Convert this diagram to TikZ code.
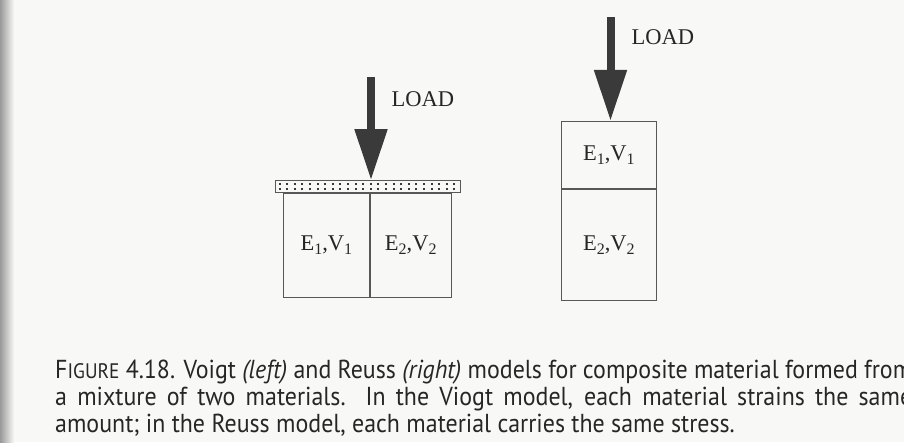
\documentclass[tikz,border=0pt]{standalone}
\usepackage{fontspec}
\setmainfont{Liberation Serif}
\newfontfamily\capfont[FakeStretch=0.92]{PT Sans}
\usetikzlibrary{arrows.meta,positioning}
\definecolor{ink}{HTML}{3A3A3A}
\definecolor{paper}{HTML}{F8F8F6}
\colorlet{rule}{ink!85}
\colorlet{txt}{black!85}
\newcommand{\lowidx}[1]{\raisebox{-0.4ex}{\fontsize{16}{16}\selectfont #1}}
\newcommand{\EV}[1]{E\lowidx{#1},V\lowidx{#1}}
\tikzset{
  layer/.style={draw=rule,line width=0.8pt,inner sep=0pt,text=txt},
  load/.style={ink,line width=8pt,-{Triangle[width=31pt,length=51pt]}},
  capline/.style={anchor=base west,inner sep=0pt,text=txt,
                  font=\capfont\fontsize{26}{26}\selectfont}
}

\begin{document}
\begin{tikzpicture}[x=1pt,y=1pt,font=\fontsize{22.5}{22.5}\selectfont]
    \fill[paper] (0,0) rectangle (904,442);
    \shade[left color=black!40,right color=paper] (0,0) rectangle (14,442);
    \useasboundingbox (0,0) rectangle (904,442);
    \clip (0,0) rectangle (904,442);

    % Voigt (left)
    \node[layer,minimum width=185pt,minimum height=12pt,anchor=south west] (plate) at (275,249) {};
    \foreach \i in {0,...,23} {
      \fill[ink] (278.5+7.6*\i,256.5) rectangle ++(2,2);
      \fill[ink] (278.5+7.6*\i,251.5) rectangle ++(2,2);
    }
    \node[layer,minimum width=86pt,minimum height=104pt,anchor=north west] (mat1) at (283,249) {\EV{1}};
    \node[layer,minimum width=81pt,minimum height=104pt,anchor=north west] (mat2) at (mat1.north east) {\EV{2}};
    \coordinate (ltop) at (371,365);
    \draw[load] (ltop) -- (ltop |- plate.north);
    \node[anchor=base west,text=txt] (lload) at (388,335) {LOAD};

    % Reuss (right)
    \node[layer,minimum width=95pt,minimum height=67pt,anchor=north west] (upper) at (561,321) {\EV{1}};
    \node[layer,minimum width=95pt,minimum height=111pt,anchor=north] (lower) at (upper.south) {\EV{2}};
    \coordinate (rtop) at (610.5,425);
    \draw[load] (rtop) -- (rtop |- upper.north);
    \node[anchor=base west,text=txt] (rload) at (628,397) {LOAD};

    % caption
    \node[capline] (cap1) at (55,64) {\makebox[857pt][s]{F{\fontsize{21}{21}\selectfont IGURE} 4.18. Voigt \textit{(left)} and Reuss \textit{(right)} models for composite material formed from}};
    \node[capline] (cap2) at (55,37) {\makebox[857pt][s]{a mixture of two materials. In the Viogt model, each material strains the same}};
    \node[capline] (cap3) at (55,10) {amount; in the Reuss model, each material carries the same stress.};
\end{tikzpicture}
\end{document}
